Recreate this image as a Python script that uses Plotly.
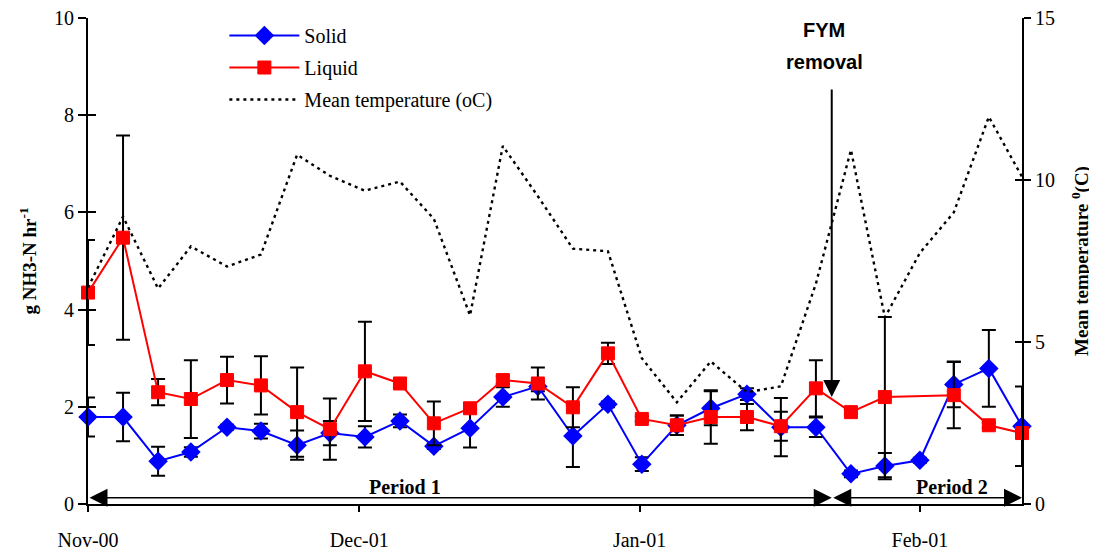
import plotly.graph_objects as go

# ---------------- data ----------------
dates = [
    "2000-11-01 00:00", "2000-11-04 21:00", "2000-11-08 18:00", "2000-11-12 09:00",
    "2000-11-16 09:00", "2000-11-20 03:00", "2000-11-24 03:00", "2000-11-27 18:00",
    "2000-12-01 15:00", "2000-12-05 12:00", "2000-12-09 06:00", "2000-12-13 06:00",
    "2000-12-16 21:00", "2000-12-20 18:00", "2000-12-24 15:00", "2000-12-28 12:00",
    "2001-01-01 06:00", "2001-01-05 03:00", "2001-01-08 21:00", "2001-01-12 21:00",
    "2001-01-16 15:00", "2001-01-20 12:00", "2001-01-24 09:00", "2001-01-28 03:00",
    "2001-02-01 00:00", "2001-02-04 18:00", "2001-02-08 15:00", "2001-02-12 07:00",
]
solid = [1.79, 1.79, 0.88, 1.07, 1.58, 1.50, 1.21, 1.46, 1.38, 1.71, 1.19, 1.56,
         2.20, 2.42, 1.40, 2.05, 0.82, 1.62, 1.97, 2.26, 1.58, 1.58, 0.62, 0.78,
         0.90, 2.46, 2.79, 1.60]
solid_err = [0.40, 0.50, 0.30, 0.10, 0.05, 0.15, 0.30, 0.25, 0.22, 0.13, 0.06, 0.40,
             0.20, 0.10, 0.64, 0.06, 0.14, 0.20, 0.35, 0.12, 0.60, 0.20, 0.07, 0.27,
             0.05, 0.47, 0.79, 0.82]
liquid = [4.35, 5.48, 2.30, 2.16, 2.55, 2.44, 1.89, 1.54, 2.73, 2.48, 1.66, 1.97,
          2.55, 2.48, 1.99, 3.10, 1.75, 1.62, 1.79, 1.79, 1.60, 2.38, 1.89, 2.20,
          None, 2.24, 1.62, 1.46]
liquid_err = [1.08, 2.10, 0.27, 0.80, 0.48, 0.60, 0.92, 0.63, 1.02, 0.08, 0.45, 0.08,
              0.08, 0.33, 0.41, 0.22, 0.05, 0.20, 0.55, 0.27, 0.30, 0.58, 0.05, 1.65,
              None, 0.68, 0.05, 0.05]
temperature = [6.68, 8.87, 6.65, 7.95, 7.33, 7.70, 10.78, 10.13, 9.67, 9.95, 8.80, 5.82,
               11.05, 9.50, 7.88, 7.80, 4.50, 3.14, 4.40, 3.45, 3.63, 6.80, 10.93, 5.76,
               7.75, 9.00, 11.95, 10.10]

tick_dates = ["2000-11-01", "2000-12-01", "2001-01-01", "2001-02-01"]
tick_labels = ["Nov-00", "Dec-01", "Jan-01", "Feb-01"]

x_start, x_end = "2000-11-01 00:00", "2001-02-12 07:00"
period_split = "2001-01-22 06:00"

SERIF = "Liberation Serif, Times New Roman, serif"
SANS = "Liberation Sans, Arial, sans-serif"

fig = go.Figure()

fig.add_trace(go.Scatter(
    x=dates, y=solid, name="Solid", mode="lines+markers",
    line=dict(color="#0000ff", width=2),
    marker=dict(symbol="diamond", size=15, color="#0000ff"),
    error_y=dict(type="data", array=solid_err, color="black", thickness=2, width=7),
    legendgroup="a", cliponaxis=False,
))
fig.add_trace(go.Scatter(
    x=dates, y=liquid, name="Liquid", mode="lines+markers", connectgaps=True,
    line=dict(color="#ff0000", width=2),
    marker=dict(symbol="square", size=13, color="#ff0000",
                line=dict(color="#ff0000", width=1)),
    error_y=dict(type="data", array=liquid_err, color="black", thickness=2, width=7),
    legendgroup="b", cliponaxis=False,
))
fig.add_trace(go.Scatter(
    x=dates, y=temperature, yaxis="y2", name="Mean temperature (oC)",
    mode="lines", line=dict(color="black", width=2.4, dash="3px,4px"),
    legendgroup="c", cliponaxis=False,
))
# invisible carriers for the inward tick marks on both value axes
fig.add_trace(go.Scatter(x=dates, y=solid, yaxis="y3", mode="lines",
                         line=dict(width=0, color="rgba(0,0,0,0)"), opacity=0,
                         hoverinfo="skip", showlegend=False))
fig.add_trace(go.Scatter(x=dates, y=temperature, yaxis="y4", mode="lines",
                         line=dict(width=0, color="rgba(0,0,0,0)"), opacity=0,
                         hoverinfo="skip", showlegend=False))

ann = []
# Period arrows
for a0, a1 in [(x_start, period_split), (period_split, x_end)]:
    ann.append(dict(x=a1, y=0.13, ax=a0, ay=0.13, xref="x", yref="y",
                    axref="x", ayref="y", text="", showarrow=True, arrowside="end+start",
                    arrowhead=2, startarrowhead=2, arrowsize=2.4, startarrowsize=2.4,
                    arrowwidth=1.5, arrowcolor="black", standoff=0, startstandoff=0))
# FYM removal arrow
ann.append(dict(x=period_split, y=2.2, ax=period_split, ay=8.56, xref="x", yref="y",
                axref="x", ayref="y", text="", showarrow=True, arrowhead=2,
                arrowsize=1.7, arrowwidth=2, arrowcolor="black", standoff=0))
ann.append(dict(x="2001-01-21 10:00", y=9.75, xref="x", yref="y", showarrow=False,
                text="<b>FYM</b>", font=dict(family=SANS, size=20, color="black")))
ann.append(dict(x="2001-01-21 10:00", y=9.1, xref="x", yref="y", showarrow=False,
                text="<b>removal</b>", font=dict(family=SANS, size=20, color="black")))
ann.append(dict(x="2000-12-06 01:00", y=0.34, xref="x", yref="y", showarrow=False,
                text="<b>Period 1</b>", font=dict(family=SERIF, size=20, color="black")))
ann.append(dict(x="2001-02-04 12:00", y=0.34, xref="x", yref="y", showarrow=False,
                text="<b>Period 2</b>", font=dict(family=SERIF, size=20, color="black")))

axis_common = dict(showgrid=False, zeroline=False, color="black", automargin=False,
                   ticklabeloverflow="allow")

# the page body adds an 8px offset, so margins are shifted accordingly
fig.update_layout(
    width=1097, height=549,
    margin=dict(l=80, r=83, t=9, b=53),
    paper_bgcolor="white", plot_bgcolor="white",
    font=dict(family=SERIF, size=20, color="black"),
    showlegend=True,
    legend=dict(x=0.146, y=1.002, xanchor="left", yanchor="top",
                bgcolor="rgba(0,0,0,0)", font=dict(family=SERIF, size=20),
                itemwidth=70, tracegroupgap=3, traceorder="grouped"),
    xaxis=dict(type="date", range=[x_start, x_end], tickvals=tick_dates,
               ticktext=tick_labels, ticks="outside", ticklen=6, tickwidth=2,
               showline=True, linewidth=2, linecolor="black",
               tickfont=dict(family=SERIF, size=20), ticklabelstandoff=11,
               **axis_common),
    yaxis=dict(range=[0, 10], dtick=2, ticks="outside", ticklen=8, tickwidth=2,
               showline=True, linewidth=2, linecolor="black",
               tickfont=dict(family=SERIF, size=20),
               title=dict(text="<b>g NH3-N hr<sup>-1</sup></b>",
                          font=dict(family=SERIF, size=19), standoff=12),
               **axis_common),
    yaxis2=dict(range=[0, 15], dtick=5, overlaying="y", side="right", anchor="x",
                ticks="outside", ticklen=7, tickwidth=2,
                showline=True, linewidth=2, linecolor="black",
                tickfont=dict(family=SERIF, size=20),
                title=dict(text="<b>Mean temperature <sup>0</sup>(C)</b>",
                           font=dict(family=SERIF, size=19), standoff=21),
                **axis_common),
    yaxis3=dict(range=[0, 10], dtick=2, overlaying="y", side="left", anchor="x",
                ticks="inside", ticklen=8, tickwidth=2, showticklabels=False,
                showline=False, showgrid=False, zeroline=False, color="black",
                automargin=False),
    yaxis4=dict(range=[0, 15], dtick=5, overlaying="y", side="right", anchor="x",
                ticks="inside", ticklen=7, tickwidth=2, showticklabels=False,
                showline=False, showgrid=False, zeroline=False, color="black",
                automargin=False),
    annotations=ann,
)

fig.write_html("out.html")
